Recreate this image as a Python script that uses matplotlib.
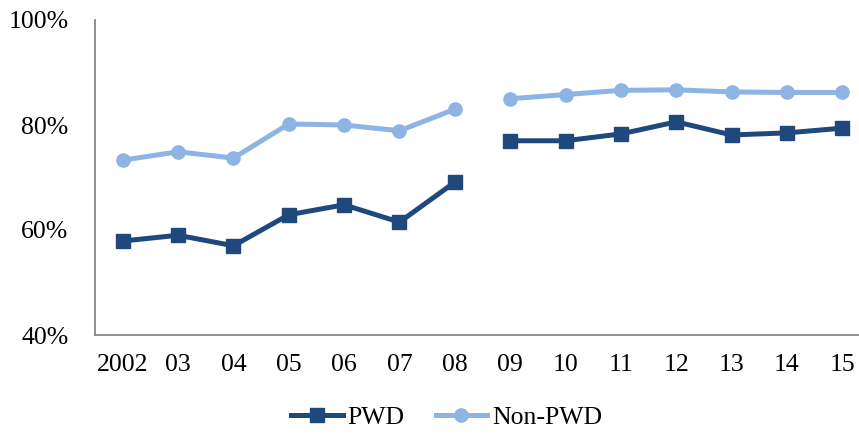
import matplotlib
matplotlib.use("Agg")
import matplotlib.pyplot as plt
import numpy as np

years = ["2002", "03", "04", "05", "06", "07", "08",
         "09", "10", "11", "12", "13", "14", "15"]
pwd = [57.9, 59.0, 57.0, 62.9, 64.8, 61.5, 69.1,
       77.0, 77.0, 78.3, 80.6, 78.1, 78.5, 79.4]
non_pwd = [73.3, 74.9, 73.7, 80.2, 80.0, 78.9, 83.0,
           85.0, 85.8, 86.6, 86.7, 86.3, 86.2, 86.2]
# the series break between 08 and 09
split = 7

plt.rcParams['font.family'] = ['Liberation Serif', 'DejaVu Serif']

fig = plt.figure(figsize=(8.59, 4.37), dpi=100)
ax = fig.add_axes([95 / 859, 102 / 437, 775 / 859, 315 / 437])

x = np.arange(len(years))
dark = "#1F497D"
light = "#8DB4E2"

for sl in (slice(0, split), slice(split, None)):
    ax.plot(x[sl], pwd[sl], color=dark, lw=3.6, marker="s", ms=9.5,
            label="PWD" if sl.start == 0 else None)
    ax.plot(x[sl], non_pwd[sl], color=light, lw=3.6, marker="o", ms=9.5,
            label="Non-PWD" if sl.start == 0 else None)

ax.set_xlim(-0.5, len(years) - 0.5)
ax.set_ylim(40, 100)
ax.set_yticks([40, 60, 80, 100])
ax.set_yticklabels([f"{v}%" for v in [40, 60, 80, 100]])
ax.set_xticks(x)
ax.set_xticklabels(years)
ax.tick_params(axis="both", length=0, labelsize=18.5)
ax.tick_params(axis="y", pad=19)
ax.tick_params(axis="x", pad=14)

for s in ("top", "right"):
    ax.spines[s].set_visible(False)
for s in ("left", "bottom"):
    ax.spines[s].set_color("#868686")
    ax.spines[s].set_linewidth(1.3)

fig.legend(loc="lower center", bbox_to_anchor=(0.52, -0.035), ncol=2,
           frameon=False, fontsize=18.5, handlelength=2.0, handletextpad=0.2,
           columnspacing=1.2)

fig.savefig("out.png", dpi=100)
